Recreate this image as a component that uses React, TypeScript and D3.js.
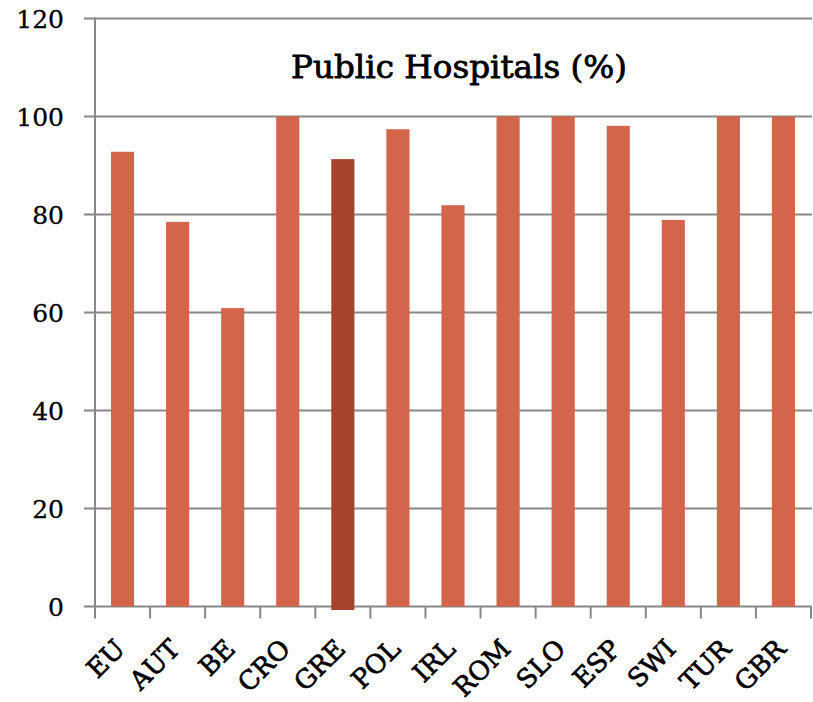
import React from "react";
import * as d3 from "d3";

const categories = ["EU", "AUT", "BE", "CRO", "GRE", "POL", "IRL", "ROM", "SLO", "ESP", "SWI", "TUR", "GBR"];
const values = [92.8, 78.5, 60.9, 100, 91.3, 97.4, 81.9, 100, 100, 98.1, 78.9, 100, 100];
const highlighted = ["GRE"];
const yTicks = [0, 20, 40, 60, 80, 100, 120];
const title = "Public Hospitals (%)";

const W = 813;
const H = 702;
const left = 95;
const right = 811;
const top = 18.5;
const bottom = 606.5;
const font = "'DejaVu Serif', Georgia, serif";

export default function App() {
  const x = d3.scaleBand<string>().domain(categories).range([left, right]).paddingInner(0.58).paddingOuter(0.29);
  const band = d3.scaleBand<string>().domain(categories).range([left, right]);
  const y = d3.scaleLinear().domain([0, 120]).range([bottom, top]);
  const grid = "#878787";
  return (
    <svg width={W} height={H} style={{ position: "absolute", left: 0, top: 0, background: "#fff" }}>
      {yTicks.map((t) => (
        <g key={t}>
          <line x1={84} x2={812} y1={y(t)} y2={y(t)} stroke={grid} strokeWidth={2} />
          <text x={64} y={y(t)} dy="0.36em" textAnchor="end" fontFamily={font} fontSize={25} fill="#000" stroke="#000" strokeWidth={0.3}>
            {t}
          </text>
        </g>
      ))}
      <line x1={left} x2={left} y1={top - 1} y2={bottom + 12} stroke={grid} strokeWidth={2} />
      {categories.map((c) => (
        <line key={"t" + c} x1={(band(c) as number) + band.bandwidth()} x2={(band(c) as number) + band.bandwidth()} y1={bottom} y2={bottom + 12} stroke={grid} strokeWidth={2} />
      ))}
      {categories.map((c, i) => {
        const hi = highlighted.includes(c);
        return (
          <rect
            key={c}
            x={x(c)}
            y={y(values[i])}
            width={x.bandwidth()}
            height={y(0) - y(values[i]) + (hi ? 3.5 : 0)}
            fill={hi ? "#A5432D" : "#D2654A"}
          />
        );
      })}
      {categories.map((c) => {
        const cx = (band(c) as number) + band.bandwidth() / 2 + 4;
        const cy = bottom + 44;
        return (
          <text key={"l" + c} x={cx} y={cy} transform={`rotate(-45 ${cx} ${cy})`} textAnchor="end" fontFamily={font} fontSize={26} fill="#000" stroke="#000" strokeWidth={0.7}>
            {c}
          </text>
        );
      })}
      <text x={459} y={78} textAnchor="middle" fontFamily={font} fontSize={31} fill="#000" stroke="#000" strokeWidth={0.8} textLength={336} lengthAdjust="spacingAndGlyphs">
        {title}
      </text>
    </svg>
  );
}
